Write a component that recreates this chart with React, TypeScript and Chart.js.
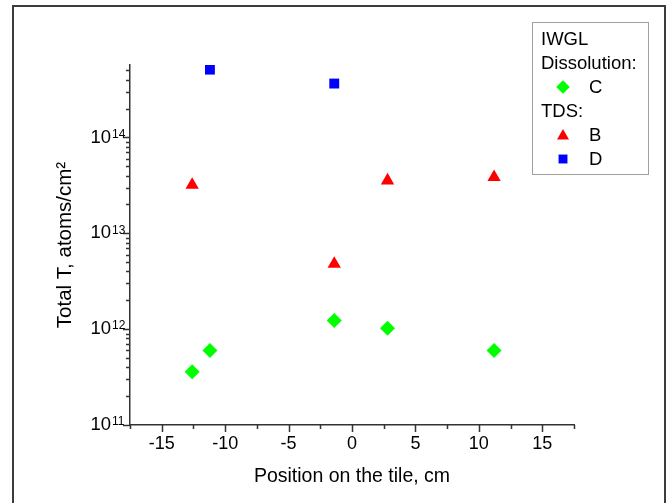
import { useEffect, useRef } from 'react';
import { Chart, registerables, PointElement } from 'chart.js';

Chart.register(...registerables);

// ---- data ----
const xC = [-12.6, -11.2, -1.4, 2.8, 11.2];
const valuesC = [3.6e11, 6.0e11, 1.23e12, 1.02e12, 6.0e11];
const xB = [-12.6, -1.4, 2.8, 11.2];
const valuesB = [3.2e13, 4.8e12, 3.55e13, 3.85e13];
const xD = [-11.2, -1.4];
const valuesD = [5.1e14, 3.65e14];

const xMajorTicks = [-15, -10, -5, 0, 5, 10, 15];
const xMinorTicks = [-17.5, -12.5, -7.5, -2.5, 2.5, 7.5, 12.5, 17.5];
const yMajorTicks = [1e11, 1e12, 1e13, 1e14];
const yMinorMultipliers = [2, 3, 4, 5, 6, 7, 8, 9];
const xMin = -17.5;
const xMax = 17.5;
const yMin = 1e11;
const yMax = 5.7e14;

const xTitle = 'Position on the tile, cm';
const yTitle = 'Total T, atoms/cm\u00B2';
const legendHeader1 = 'IWGL';
const legendHeader2 = 'Dissolution:';
const legendHeader3 = 'TDS:';
const labelC = 'C';
const labelB = 'B';
const labelD = 'D';

const FONT = "'Liberation Sans', Arial, sans-serif";
const AXIS_COLOR = '#333333';

const styleC = { pointStyle: 'rectRot', radius: 7.5, color: '#00ff00' };
const styleB = { pointStyle: 'triangle', radius: 7.7, color: '#ff0000' };
const styleD = { pointStyle: 'rect', radius: 7, color: '#0000ff' };

const ticksPlugin = {
  id: 'customTicks',
  afterDraw(chart: any) {
    const ctx = chart.ctx;
    const xs = chart.scales.x;
    const ys = chart.scales.y;
    const area = chart.chartArea;
    ctx.save();
    ctx.strokeStyle = AXIS_COLOR;
    ctx.lineWidth = 1.5;
    const bottom = area.bottom;
    const left = area.left;
    ctx.beginPath();
    xMajorTicks.forEach((v) => {
      const p = Math.round(xs.getPixelForValue(v)) + 0.5;
      ctx.moveTo(p, bottom);
      ctx.lineTo(p, bottom + 7);
    });
    xMinorTicks.forEach((v) => {
      const p = Math.round(xs.getPixelForValue(v)) + 0.5;
      ctx.moveTo(p, bottom);
      ctx.lineTo(p, bottom + 4);
    });
    yMajorTicks.forEach((v) => {
      const p = Math.round(ys.getPixelForValue(v)) + 0.5;
      ctx.moveTo(left, p);
      ctx.lineTo(left - 7, p);
    });
    yMajorTicks.forEach((d) => {
      yMinorMultipliers.forEach((m) => {
        const v = d * m;
        if (v > yMax) return;
        const p = Math.round(ys.getPixelForValue(v)) + 0.5;
        ctx.moveTo(left, p);
        ctx.lineTo(left - 4, p);
      });
    });
    ctx.stroke();

    // exponents of the y tick labels ("10" is the library's tick label)
    ctx.fillStyle = '#000000';
    ctx.font = `12px ${FONT}`;
    ctx.textAlign = 'left';
    ctx.textBaseline = 'top';
    yMajorTicks.forEach((v) => {
      const p = ys.getPixelForValue(v);
      const e = String(Math.round(Math.log10(v)));
      ctx.fillText(e, left - 18, p - 9);
    });

    // legend
    const bx = 532.5;
    const by = 22.5;
    const bw = 116;
    const bh = 152;
    ctx.fillStyle = '#ffffff';
    ctx.fillRect(bx, by, bw, bh);
    ctx.strokeStyle = '#a0a0a0';
    ctx.lineWidth = 1;
    ctx.strokeRect(bx, by, bw, bh);
    ctx.fillStyle = '#000000';
    ctx.font = `18.5px ${FONT}`;
    ctx.textBaseline = 'middle';
    ctx.textAlign = 'left';
    const lineH = 24;
    const y0 = 40;
    const hx = 541;
    const mx = 563;
    const lx = 589;
    ctx.fillText(legendHeader1, hx, y0);
    ctx.fillText(legendHeader2, hx, y0 + lineH);
    ctx.fillText(labelC, lx, y0 + lineH * 2);
    ctx.fillText(legendHeader3, hx, y0 + lineH * 3);
    ctx.fillText(labelB, lx, y0 + lineH * 4);
    ctx.fillText(labelD, lx, y0 + lineH * 5);
    const marks = [
      [styleC, y0 + lineH * 2 - 1],
      [styleB, y0 + lineH * 4],
      [styleD, y0 + lineH * 5 - 1],
    ] as const;
    marks.forEach(([s, yy]) => {
      const pe: any = new PointElement({ x: mx, y: yy } as any);
      pe.options = {
        pointStyle: s.pointStyle,
        radius: s.radius * 0.9,
        rotation: 0,
        borderWidth: 0,
        backgroundColor: s.color,
        borderColor: s.color,
      };
      pe.draw(ctx);
    });
    ctx.restore();
  },
};

export default function App() {
  const ref = useRef<HTMLCanvasElement | null>(null);
  useEffect(() => {
    if (!ref.current) return;
    const mk = (xv: number[], yv: number[], s: any, label: string) => ({
      label,
      data: xv.map((x, i) => ({ x, y: yv[i] })),
      pointStyle: s.pointStyle,
      pointRadius: s.radius,
      pointHoverRadius: s.radius,
      pointBorderWidth: 0,
      backgroundColor: s.color,
      borderColor: s.color,
      showLine: false,
    });
    const chart = new Chart(ref.current, {
      type: 'scatter',
      data: {
        datasets: [
          mk(xC, valuesC, styleC, labelC),
          mk(xB, valuesB, styleB, labelB),
          mk(xD, valuesD, styleD, labelD),
        ],
      },
      options: {
        animation: false,
        responsive: false,
        maintainAspectRatio: false,
        layout: { padding: { left: 0, right: 96, top: 65, bottom: 0 } },
        plugins: { legend: { display: false }, tooltip: { enabled: false } },
        scales: {
          x: {
            type: 'linear',
            position: 'bottom',
            min: xMin,
            max: xMax,
            afterBuildTicks: (scale: any) => {
              scale.ticks = xMajorTicks.map((v) => ({ value: v }));
            },
            afterFit: (scale: any) => {
              scale.height = 78;
            },
            grid: { display: false, drawTicks: false },
            border: { display: true, color: AXIS_COLOR, width: 1.5 },
            ticks: {
              autoSkip: false,
              maxRotation: 0,
              padding: 8,
              color: '#000',
              font: { family: FONT, size: 18 },
              callback: (v: any) => String(v),
            },
            title: {
              display: true,
              text: xTitle,
              color: '#000',
              font: { family: FONT, size: 19.5 },
              padding: { top: 0, bottom: 15 },
            },
          },
          y: {
            type: 'logarithmic',
            position: 'left',
            min: yMin,
            max: yMax,
            afterBuildTicks: (scale: any) => {
              scale.ticks = yMajorTicks.map((v) => ({ value: v }));
            },
            afterFit: (scale: any) => {
              scale.width = 130;
            },
            grid: { display: false, drawTicks: false },
            border: { display: true, color: AXIS_COLOR, width: 1.5 },
            ticks: {
              autoSkip: false,
              padding: 19,
              color: '#000',
              font: { family: FONT, size: 18.5 },
              callback: () => '10',
            },
            title: {
              display: true,
              text: yTitle,
              color: '#000',
              font: { family: FONT, size: 20.5 },
              padding: { top: 53, bottom: 0 },
            },
          },
        },
      },
      plugins: [ticksPlugin],
    } as any);
    return () => chart.destroy();
  }, []);

  return (
    <div style={{ position: 'fixed', left: 0, top: 0, width: 670, height: 503, background: '#fff', overflow: 'hidden' }}>
      <canvas ref={ref} width={670} height={503} style={{ display: 'block', width: 670, height: 503 }} />
      <div
        style={{
          position: 'absolute',
          left: 12,
          top: 5,
          width: 650,
          height: 600,
          border: '2px solid #3c3c3c',
          borderBottom: 'none',
          pointerEvents: 'none',
        }}
      />
    </div>
  );
}
